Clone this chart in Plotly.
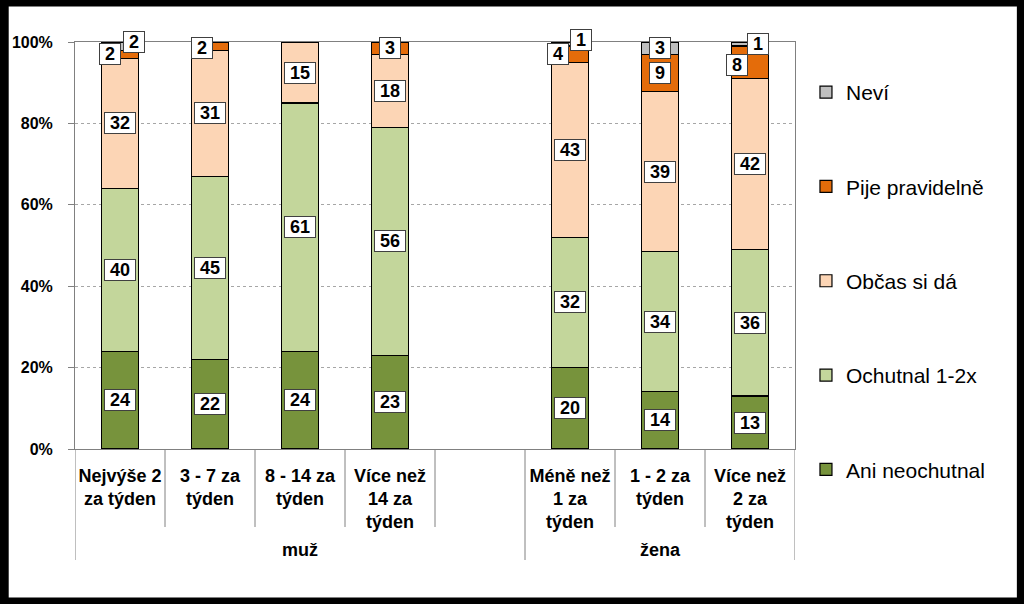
import plotly.graph_objects as go

# categories (slot 4 is the empty gap that belongs to the "muž" group)
categories = ["Nejvýše 2<br>za týden", "3 - 7 za<br>týden", "8 - 14 za<br>týden",
              "Více než<br>14 za<br>týden", "", "Méně než<br>1 za<br>týden",
              "1 - 2 za<br>týden", "Více než<br>2 za<br>týden"]
groups = ["muž", "žena"]
group_slots = [[0, 1, 2, 3, 4], [5, 6, 7]]

# series values (percent, as printed on the labels), None = empty gap
ani_neochutnal = [24, 22, 24, 23, None, 20, 14, 13]
ochutnal = [40, 45, 61, 56, None, 32, 34, 36]
obcas = [32, 31, 15, 18, None, 43, 39, 42]
pije = [2, 2, 0, 3, None, 4, 9, 8]
nevi = [2, 0, 0, 0, None, 1, 3, 1]

series_names = ["Ani neochutnal", "Ochutnal 1-2x", "Občas si dá", "Pije pravidelně", "Neví"]
series_vals = [ani_neochutnal, ochutnal, obcas, pije, nevi]
colors = ["#77933C", "#C3D69B", "#FCD5B5", "#E46C0A", "#BFBFBF"]

y_ticks = [0, 20, 40, 60, 80, 100]

# label nudges (px) for thin segments: (slot, series index) -> (xshift, yshift)
label_shift = {
    (0, 3): (-10, 0), (0, 4): (14, 4),
    (1, 3): (-8, -2),
    (5, 3): (-12, 0), (5, 4): (11, 4),
    (7, 3): (-13, -3), (7, 4): (8, 0),
}

W, H = 1024, 604
ML, MR, MT, MB = 73, 229, 42, 155
PW, PH = W - ML - MR, H - MT - MB
FONT = "Arial, Liberation Sans, sans-serif"

x = list(range(len(categories)))

fig = go.Figure()
for k, (name, vals, col) in enumerate(zip(series_names, series_vals, colors)):
    fig.add_bar(x=x, y=vals, name=name, width=0.41, legendgroup=name,
                legendrank=len(series_names) - k, hoverinfo="skip",
                marker=dict(color=col, line=dict(color="black", width=1.2)))

# data labels in white boxes
for i in x:
    col_vals = [s[i] for s in series_vals]
    if col_vals[0] is None:
        continue
    tot = sum(col_vals)
    base = 0
    for k, v in enumerate(col_vals):
        if v:
            xs, ys = label_shift.get((i, k), (0, 0))
            fig.add_annotation(x=i, y=(base + v / 2) / tot * 100, text=f" {v} ",
                               showarrow=False, xshift=xs, yshift=ys,
                               bgcolor="white", bordercolor="#404040", borderwidth=1,
                               borderpad=0,
                               font=dict(family=FONT, size=18, color="black", weight="bold"))
        base += v

# category dividers below the axis
ybot_inner = -(527 - (MT + PH)) / PH
ybot_group = -(560 - (MT + PH)) / PH
group_edges = {-0.5, 4.5, 7.5}
for b in [i - 0.5 for i in range(len(categories) + 1)]:
    fig.add_shape(type="line", xref="x", yref="paper", x0=b, x1=b, y0=0,
                  y1=ybot_group if b in group_edges else ybot_inner,
                  line=dict(color="#808080", width=1))

for g, slots in zip(groups, group_slots):
    fig.add_annotation(x=sum(slots) / len(slots), y=-(550 - (MT + PH)) / PH, xref="x", yref="paper",
                       text=g, showarrow=False, yanchor="middle",
                       font=dict(family=FONT, size=18, color="black", weight="bold"))

# black frame round the picture
fig.add_shape(type="rect", xref="paper", yref="paper",
              x0=-ML / PW, x1=(W - ML) / PW, y0=-MB / PH, y1=(H - MB) / PH,
              line=dict(color="black", width=13), fillcolor="rgba(0,0,0,0)")

fig.update_layout(
    width=W, height=H, barmode="stack", barnorm="percent",
    margin=dict(l=ML, r=MR, t=MT, b=MB),
    plot_bgcolor="white", paper_bgcolor="white",
    font=dict(family=FONT, color="black"),
    showlegend=True, hovermode=False,
    legend=dict(traceorder="grouped", x=(806 - ML) / PW, xanchor="left",
                y=(MT + PH - 72) / PH, yanchor="top", tracegroupgap=64,
                maxheight=560, itemwidth=30,
                font=dict(family=FONT, size=21, color="black"),
                bgcolor="rgba(0,0,0,0)"),
)
fig.update_xaxes(range=[-0.5, 7.5], tickvals=x, ticktext=[f"<b>{c}</b>" if c else "" for c in categories],
                 ticks="", showgrid=False, showline=True, linecolor="#808080", mirror=True,
                 tickfont=dict(family=FONT, size=18, color="black"), ticklabelstandoff=10)
fig.update_yaxes(range=[0, 100], tickvals=y_ticks, ticktext=[f"{t}%" for t in y_ticks],
                 ticks="outside", ticklen=6, tickcolor="#808080",
                 showline=True, linecolor="#808080", mirror=True,
                 showgrid=True, gridcolor="#A6A6A6", griddash="dot",
                 tickfont=dict(family=FONT, size=16, color="black", weight="bold"),
                 ticklabelstandoff=12, zeroline=False)

fig.write_html("out.html", config={"displayModeBar": False},
               post_script="document.body.style.margin='0';")
